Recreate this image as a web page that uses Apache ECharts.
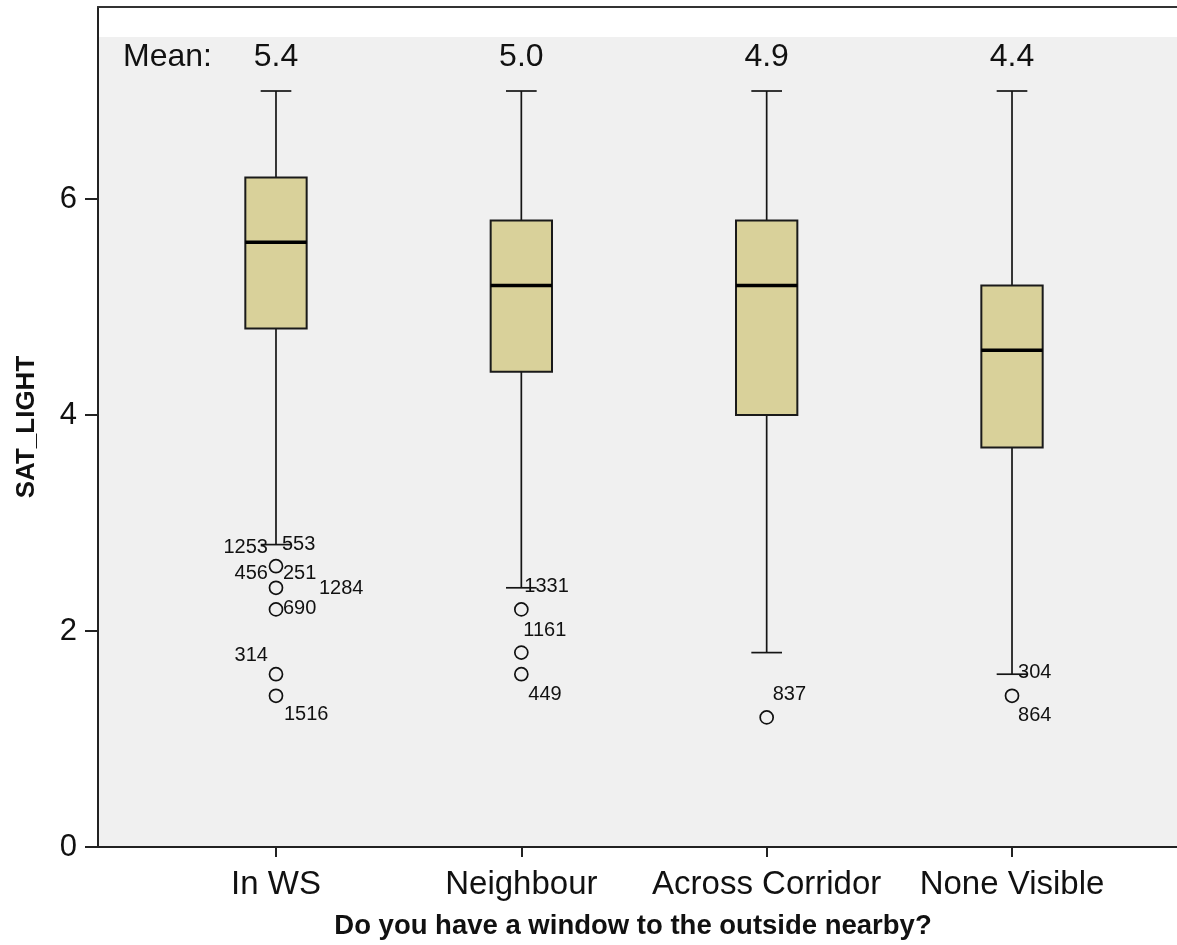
<!DOCTYPE html>
<html>
<head>
<meta charset="utf-8">
<title>SAT_LIGHT by window access</title>
<script src="https://cdn.jsdelivr.net/npm/echarts@6/dist/echarts.min.js"></script>
<style>
  html, body { margin: 0; padding: 0; background: #ffffff; }
  #chart { width: 1177px; height: 945px; }
</style>
</head>
<body>
<div id="chart"></div>
<script>
// ---- data ----
const categories = ['In WS', 'Neighbour', 'Across Corridor', 'None Visible'];
const whiskerHigh = [7.0, 7.0, 7.0, 7.0];
const q3Values = [6.2, 5.8, 5.8, 5.2];
const medianValues = [5.6, 5.2, 5.2, 4.6];
const q1Values = [4.8, 4.4, 4.0, 3.7];
const whiskerLow = [2.8, 2.4, 1.8, 1.6];
const meanValues = [5.4, 5.0, 4.9, 4.4];

// outlying cases: group index, value, case number
const outlierGroup = [0, 0, 0, 0, 0, 0, 0, 0, 1, 1, 1, 2, 3, 3];
const outlierValue = [2.6, 2.6, 2.4, 2.4, 2.4, 2.2, 1.6, 1.4, 2.2, 1.8, 1.6, 1.2, 1.4, 1.4];
const outlierCase = ['1253', '553', '456', '251', '1284', '690', '314', '1516', '1331', '1161', '449', '837', '304', '864'];

const yTickValues = [0, 2, 4, 6];

// ---- layout ----
const FONT = 'Liberation Sans, Arial, Helvetica, sans-serif';
const X_MIN = 0.2745, X_MAX = 4.6725;
const Y_MAX = 7.7778;
const SHADE_TOP = 7.5;      // upper edge of the grey panel
const MEAN_ROW = 7.31;      // height of the mean captions
const BOX_WIDTH = 0.25;     // in category units
// case-number label placement around each circle: [dx, dy, align]
const caseLabelPlace = [
  [-8, -19, 'right'], [6, -22, 'left'], [-8, -14, 'right'], [7, -14, 'left'],
  [43, 1, 'left'], [7, -1, 'left'], [-8, -19, 'right'], [8, 19, 'left'],
  [3, -23, 'left'], [2, -22, 'left'], [7, 20, 'left'],
  [6, -23, 'left'],
  [6, -23, 'left'], [6, 20, 'left']
];

const boxData = categories.map((c, i) => [i + 1, whiskerLow[i], q1Values[i], medianValues[i], q3Values[i], whiskerHigh[i]]);
const meanData = categories.map((c, i) => [i + 1, meanValues[i]]);

const seen = new Set();
const circleData = [];
outlierValue.forEach((v, k) => {
  const key = outlierGroup[k] + ':' + v;
  if (!seen.has(key)) { seen.add(key); circleData.push([outlierGroup[k] + 1, v]); }
});
const caseLabelData = outlierValue.map((v, k) => ({
  value: [outlierGroup[k] + 1, v],
  name: outlierCase[k],
  label: { offset: [caseLabelPlace[k][0], caseLabelPlace[k][1]], align: caseLabelPlace[k][2] }
}));

function renderBox(params, api) {
  const x = api.value(0);
  const pLow = api.coord([x, api.value(1)]);
  const pQ1 = api.coord([x, api.value(2)]);
  const pMed = api.coord([x, api.value(3)]);
  const pQ3 = api.coord([x, api.value(4)]);
  const pHigh = api.coord([x, api.value(5)]);
  const w = api.size([BOX_WIDTH, 0])[0];
  const cap = w / 2;
  const cx = pMed[0];
  const ink = '#151515';
  return {
    type: 'group',
    children: [
      { type: 'line', shape: { x1: cx, y1: pHigh[1], x2: cx, y2: pQ3[1] }, style: { stroke: ink, lineWidth: 1.7 } },
      { type: 'line', shape: { x1: cx, y1: pQ1[1], x2: cx, y2: pLow[1] }, style: { stroke: ink, lineWidth: 1.7 } },
      { type: 'line', shape: { x1: cx - cap / 2, y1: pHigh[1], x2: cx + cap / 2, y2: pHigh[1] }, style: { stroke: ink, lineWidth: 1.7 } },
      { type: 'line', shape: { x1: cx - cap / 2, y1: pLow[1], x2: cx + cap / 2, y2: pLow[1] }, style: { stroke: ink, lineWidth: 1.7 } },
      { type: 'rect', shape: { x: cx - w / 2, y: pQ3[1], width: w, height: pQ1[1] - pQ3[1] },
        style: { fill: '#d9d19a', stroke: '#1a1a1a', lineWidth: 2 } },
      { type: 'line', shape: { x1: cx - w / 2, y1: pMed[1], x2: cx + w / 2, y2: pMed[1] }, style: { stroke: '#000', lineWidth: 3.5 } }
    ]
  };
}

function renderMean(params, api) {
  const p = api.coord([api.value(0), MEAN_ROW]);
  return {
    type: 'text',
    x: p[0], y: p[1],
    style: { text: api.value(1).toFixed(1), fill: '#111', font: '32px ' + FONT, textAlign: 'center', textVerticalAlign: 'middle' }
  };
}

const chart = echarts.init(document.getElementById('chart'), null, { renderer: 'canvas' });
chart.setOption({
  backgroundColor: '#ffffff',
  animation: false,
  grid: { left: 98, right: 0, top: 7, bottom: 98, show: false },
  xAxis: [{
    type: 'value', min: X_MIN, max: X_MAX, z: 10,
    name: 'Do you have a window to the outside nearby?',
    nameLocation: 'middle', nameGap: 65,
    nameTextStyle: { fontFamily: FONT, fontWeight: 'bold', fontSize: 27.5, color: '#111', padding: [0, 9, 0, 0] },
    axisLine: { show: true, onZero: false, lineStyle: { color: '#222', width: 2 } },
    axisTick: { show: true, length: 10, customValues: [1, 2, 3, 4], lineStyle: { color: '#222', width: 2 } },
    axisLabel: { customValues: [1, 2, 3, 4], margin: 21, fontFamily: FONT, fontSize: 33, color: '#111',
      formatter: v => categories[Math.round(v) - 1] },
    splitLine: { show: false }
  }, {
    // top frame line
    type: 'value', position: 'top', min: X_MIN, max: X_MAX, z: 10,
    axisLine: { show: true, onZero: false, lineStyle: { color: '#333', width: 2 } },
    axisTick: { show: false }, axisLabel: { show: false }, splitLine: { show: false }
  }],
  yAxis: {
    type: 'value', min: 0, max: Y_MAX, z: 10,
    name: 'SAT_LIGHT', nameLocation: 'middle', nameRotate: 90, nameGap: 58,
    nameTextStyle: { fontFamily: FONT, fontWeight: 'bold', fontSize: 26, color: '#111' },
    axisLine: { show: true, onZero: false, lineStyle: { color: '#222', width: 2 } },
    axisTick: { show: true, length: 13, customValues: yTickValues, lineStyle: { color: '#222', width: 2 } },
    axisLabel: { customValues: yTickValues, margin: 21, fontFamily: FONT, fontSize: 31, color: '#111' },
    splitLine: { show: false }
  },
  graphic: [{
    type: 'text', left: 123, top: 41, z: 20,
    style: { text: 'Mean:', fill: '#111', font: '32px ' + FONT }
  }],
  series: [
    {
      type: 'custom', name: 'panel', z: 0, silent: true,
      data: [], renderItem: () => null,
      markArea: {
        silent: true,
        itemStyle: { color: '#f0f0f0' },
        data: [[{ coord: [X_MIN, 0] }, { coord: [X_MAX, SHADE_TOP] }]]
      }
    },
    {
      type: 'custom', name: 'boxes', z: 3,
      encode: { x: 0, y: [1, 2, 3, 4, 5] },
      data: boxData, renderItem: renderBox
    },
    {
      type: 'scatter', name: 'outliers', z: 4,
      symbol: 'circle', symbolSize: 13,
      itemStyle: { color: 'rgba(0,0,0,0)', borderColor: '#111', borderWidth: 1.7, opacity: 1 },
      data: circleData
    },
    {
      type: 'scatter', name: 'case numbers', z: 5,
      symbolSize: 0,
      itemStyle: { opacity: 1 },
      label: { show: true, position: 'inside', formatter: p => p.name, fontFamily: FONT, fontSize: 20, color: '#111',
        textBorderWidth: 0, verticalAlign: 'middle' },
      data: caseLabelData
    },
    {
      type: 'custom', name: 'means', z: 5,
      encode: { x: 0, y: 1 },
      data: meanData, renderItem: renderMean
    }
  ]
});
</script>
</body>
</html>
